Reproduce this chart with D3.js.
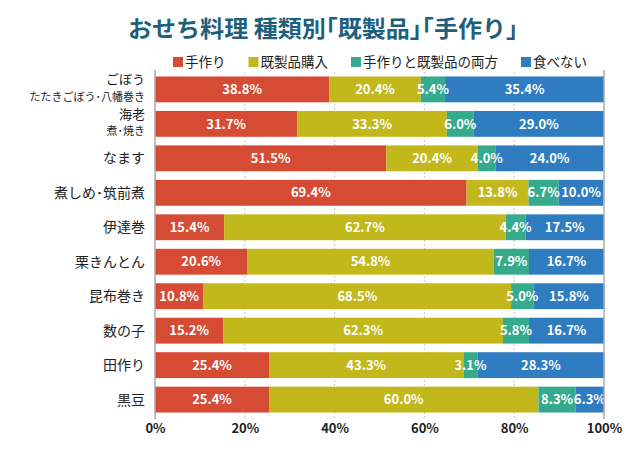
<!DOCTYPE html>
<html>
<head>
<meta charset="utf-8">
<script src="https://cdn.jsdelivr.net/npm/d3@7"></script>
<style>
  body { margin: 0; background: #fff; }
  svg { font-family: "Noto Sans CJK JP", "Noto Sans", sans-serif; }
</style>
</head>
<body>
<div id="chart"></div>
<script>
// data
var categories = ['ごぼう\nたたきごぼう･八幡巻き', '海老\n煮･焼き', 'なます', '煮しめ･筑前煮', '伊達巻', '栗きんとん', '昆布巻き', '数の子', '田作り', '黒豆'];
var seriesNames = ['手作り', '既製品購入', '手作りと既製品の両方', '食べない'];
var homemade = [38.8, 31.7, 51.5, 69.4, 15.4, 20.6, 10.8, 15.2, 25.4, 25.4];
var bought   = [20.4, 33.3, 20.4, 13.8, 62.7, 54.8, 68.5, 62.3, 43.3, 60.0];
var both     = [5.4, 6.0, 4.0, 6.7, 4.4, 7.9, 5.0, 5.8, 3.1, 8.3];
var notEat   = [35.4, 29.0, 24.0, 10.0, 17.5, 16.7, 15.8, 16.7, 28.3, 6.3];
var xTicks = [0, 20, 40, 60, 80, 100];
var colors = ['#d64b34', '#c3b81b', '#36aa8c', '#2f7cc0'];

var W = 640, H = 451;
var margin = {top: 72, right: 36, bottom: 34, left: 155};

var svg = d3.select('#chart').append('svg')
    .attr('width', W)
    .attr('height', H);

// title
svg.append('text')
    .attr('x', 128)
    .attr('y', 37)
    .attr('font-size', 22.5)
    .attr('font-weight', 'bold')
    .attr('fill', '#1f5f7e')
    .attr('textLength', 390)
    .attr('lengthAdjust', 'spacingAndGlyphs')
    .text('おせち料理 種類別｢既製品｣｢手作り｣');

// legend
var legend = svg.append('g');
var lx = 173;
seriesNames.forEach(function(name, i) {
    var g = legend.append('g').attr('transform', 'translate(' + lx + ',54)');
    g.append('rect').attr('width', 10).attr('height', 10).attr('y', 3).attr('fill', colors[i]);
    var t = g.append('text').attr('x', 12).attr('y', 13)
        .attr('font-size', 13.5).attr('fill', '#222').text(name);
    lx += 12 + t.node().getComputedTextLength() + 23;
});

var x = d3.scaleLinear().domain([0, 100]).range([margin.left, W - margin.right]);
var y = d3.scaleBand().domain(categories).range([margin.top, H - margin.bottom]).paddingInner(0.25).paddingOuter(0.13);

// dotted grid
svg.append('g').selectAll('line')
    .data([20, 40, 60, 80])
    .enter().append('line')
    .attr('x1', function(d) { return x(d); })
    .attr('x2', function(d) { return x(d); })
    .attr('y1', margin.top)
    .attr('y2', H - margin.bottom + 2)
    .attr('stroke', '#c8c8c8')
    .attr('stroke-dasharray', '2,2');

// stacked data
var rows = categories.map(function(c, i) {
    return {cat: c, vals: [homemade[i], bought[i], both[i], notEat[i]]};
});

var bars = svg.append('g');
rows.forEach(function(r) {
    var acc = 0;
    r.vals.forEach(function(v, k) {
        var x0 = acc, x1 = acc + v;
        acc = x1;
        bars.append('rect')
            .attr('x', x(x0))
            .attr('width', x(x1) - x(x0))
            .attr('y', y(r.cat))
            .attr('height', y.bandwidth())
            .attr('fill', colors[k]);
    });
});
rows.forEach(function(r) {
    var acc = 0;
    r.vals.forEach(function(v, k) {
        var x0 = acc, x1 = acc + v;
        acc = x1;
        bars.append('text')
            .attr('x', (x(x0) + x(x1)) / 2)
            .attr('y', y(r.cat) + y.bandwidth() / 2)
            .attr('dy', '0.36em')
            .attr('text-anchor', 'middle')
            .attr('font-size', 13)
            .attr('font-weight', 'bold')
            .attr('fill', '#fff')
            .text(v.toFixed(1) + '%');
    });
});

// side axis lines
[0, 100].forEach(function(d) {
    svg.append('line')
        .attr('x1', x(d)).attr('x2', x(d))
        .attr('y1', margin.top - 2).attr('y2', H - margin.bottom + 2)
        .attr('stroke', '#aaa').attr('stroke-width', 1.5);
});

// x axis labels
var xAxis = d3.axisBottom(x).tickValues(xTicks).tickSize(0).tickFormat(function(d) { return d + '%'; });
var gx = svg.append('g')
    .attr('transform', 'translate(0,' + (H - margin.bottom + 4) + ')')
    .call(xAxis);
gx.select('.domain').remove();
gx.selectAll('text')
    .attr('font-size', 13)
    .attr('font-weight', 'bold')
    .attr('fill', '#222')
    .attr('font-family', '"Noto Sans CJK JP", sans-serif');

// category labels (two-line ones as separate texts)
rows.forEach(function(r) {
    var lines = r.cat.split('\n');
    var cy = y(r.cat) + y.bandwidth() / 2;
    if (lines.length === 1) {
        svg.append('text').attr('text-anchor', 'end').attr('fill', '#222')
            .attr('x', 145).attr('y', cy).attr('dy', '0.36em')
            .attr('font-size', 14).text(lines[0]);
    } else {
        svg.append('text').attr('text-anchor', 'end').attr('fill', '#222')
            .attr('x', 145).attr('y', cy - 5).attr('font-size', 13).text(lines[0]);
        svg.append('text').attr('text-anchor', 'end').attr('fill', '#222')
            .attr('x', 145).attr('y', cy + 11.5).attr('font-size', 11).text(lines[1]);
    }
});
</script>
</body>
</html>
